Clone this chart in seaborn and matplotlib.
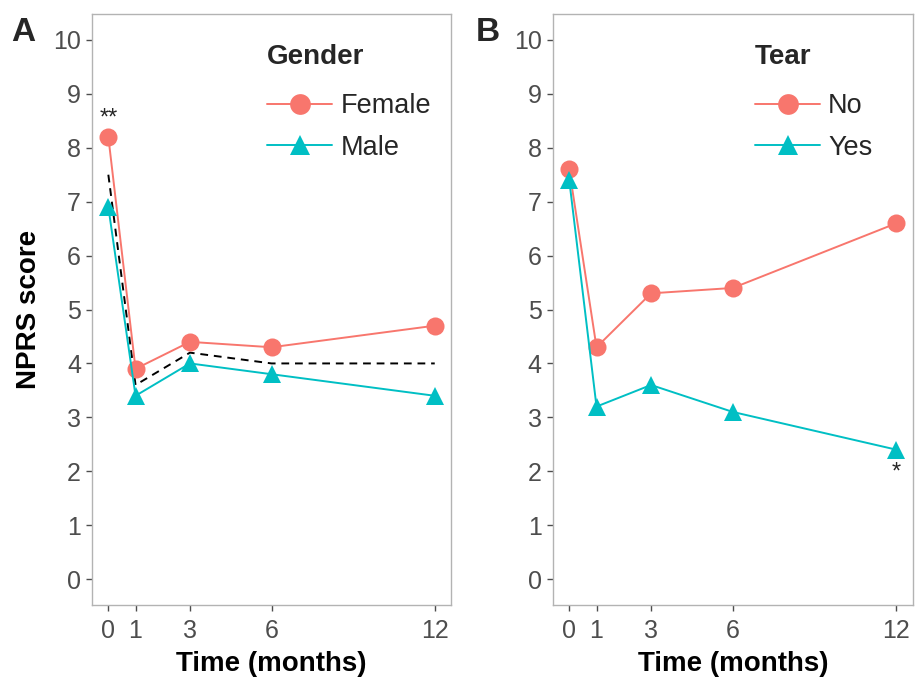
import numpy as np
import pandas as pd
import seaborn as sns
import matplotlib.pyplot as plt

months = [0, 1, 3, 6, 12]
female = [8.2, 3.9, 4.4, 4.3, 4.7]
male = [6.9, 3.4, 4.0, 3.8, 3.4]
overall = [7.5, 3.6, 4.2, 4.0, 4.0]
tear_no = [7.6, 4.3, 5.3, 5.4, 6.6]
tear_yes = [7.4, 3.2, 3.6, 3.1, 2.4]

red, teal = '#F8766D', '#00BFC4'

sns.set_style('white')
plt.rcParams['font.family'] = ['Liberation Sans', 'DejaVu Sans']

gender_df = pd.DataFrame({'month': months * 2, 'score': female + male,
                          'Gender': ['Female'] * 5 + ['Male'] * 5})
tear_df = pd.DataFrame({'month': months * 2, 'score': tear_no + tear_yes,
                        'Tear': ['No'] * 5 + ['Yes'] * 5})

fig = plt.figure(figsize=(9.23, 6.84), dpi=100)
ax1 = fig.add_axes([0.0997, 0.1155, 0.389, 0.864])
ax2 = fig.add_axes([0.599, 0.1155, 0.390, 0.864])


def panel(ax, df, group, levels, leg_x):
    if group == 'Gender':
        ax.plot(months, overall, ls=(0, (4, 3)), color='black', lw=1.4, zorder=1)
    sns.lineplot(data=df, x='month', y='score', hue=group, style=group,
                 hue_order=levels, style_order=levels,
                 palette=[red, teal], markers=['o', '^'], dashes=False,
                 markersize=13, markeredgewidth=0, lw=1.4, ax=ax, zorder=2)
    ax.set_xlim(-0.6, 12.6)
    ax.set_ylim(-0.48, 10.48)
    ax.set_xticks(months)
    ax.set_yticks(range(11))
    ax.tick_params(axis='both', labelsize=18, colors='#4D4D4D', length=4,
                   width=1, left=True, bottom=True, pad=4)
    ax.tick_params(axis='x', pad=6)
    for s in ax.spines.values():
        s.set_color('#B3B3B3')
        s.set_linewidth(1)
    ax.set_xlabel('Time (months)', fontsize=20, fontweight='bold', labelpad=6,
                  color='black')
    ax.set_ylabel('')
    leg = ax.legend(title=group, loc='upper left', frameon=False, fontsize=19.5,
                    title_fontproperties={'weight': 'bold', 'size': 20},
                    markerscale=1.15, handlelength=2.4, labelspacing=0.58,
                    handletextpad=0.3, borderpad=0.4,
                    bbox_to_anchor=(leg_x, 0.99))
    leg._legend_box.align = 'left'
    leg._legend_box.sep = 16.5  # a bit more room under the title


panel(ax1, gender_df, 'Gender', ['Female', 'Male'], 0.42)
panel(ax2, tear_df, 'Tear', ['No', 'Yes'], 0.494)

ax1.set_ylabel('NPRS score', fontsize=20, fontweight='bold', labelpad=8,
               color='black')
ax1.text(0, female[0] + 0.14, '**', ha='center', va='bottom', fontsize=17)
ax2.text(12, tear_yes[-1] - 0.22, '*', ha='center', va='top', fontsize=17)

fig.text(0.012, 0.94, 'A', fontsize=24, fontweight='bold')
fig.text(0.515, 0.94, 'B', fontsize=24, fontweight='bold')

fig.savefig('out.png', dpi=100)
